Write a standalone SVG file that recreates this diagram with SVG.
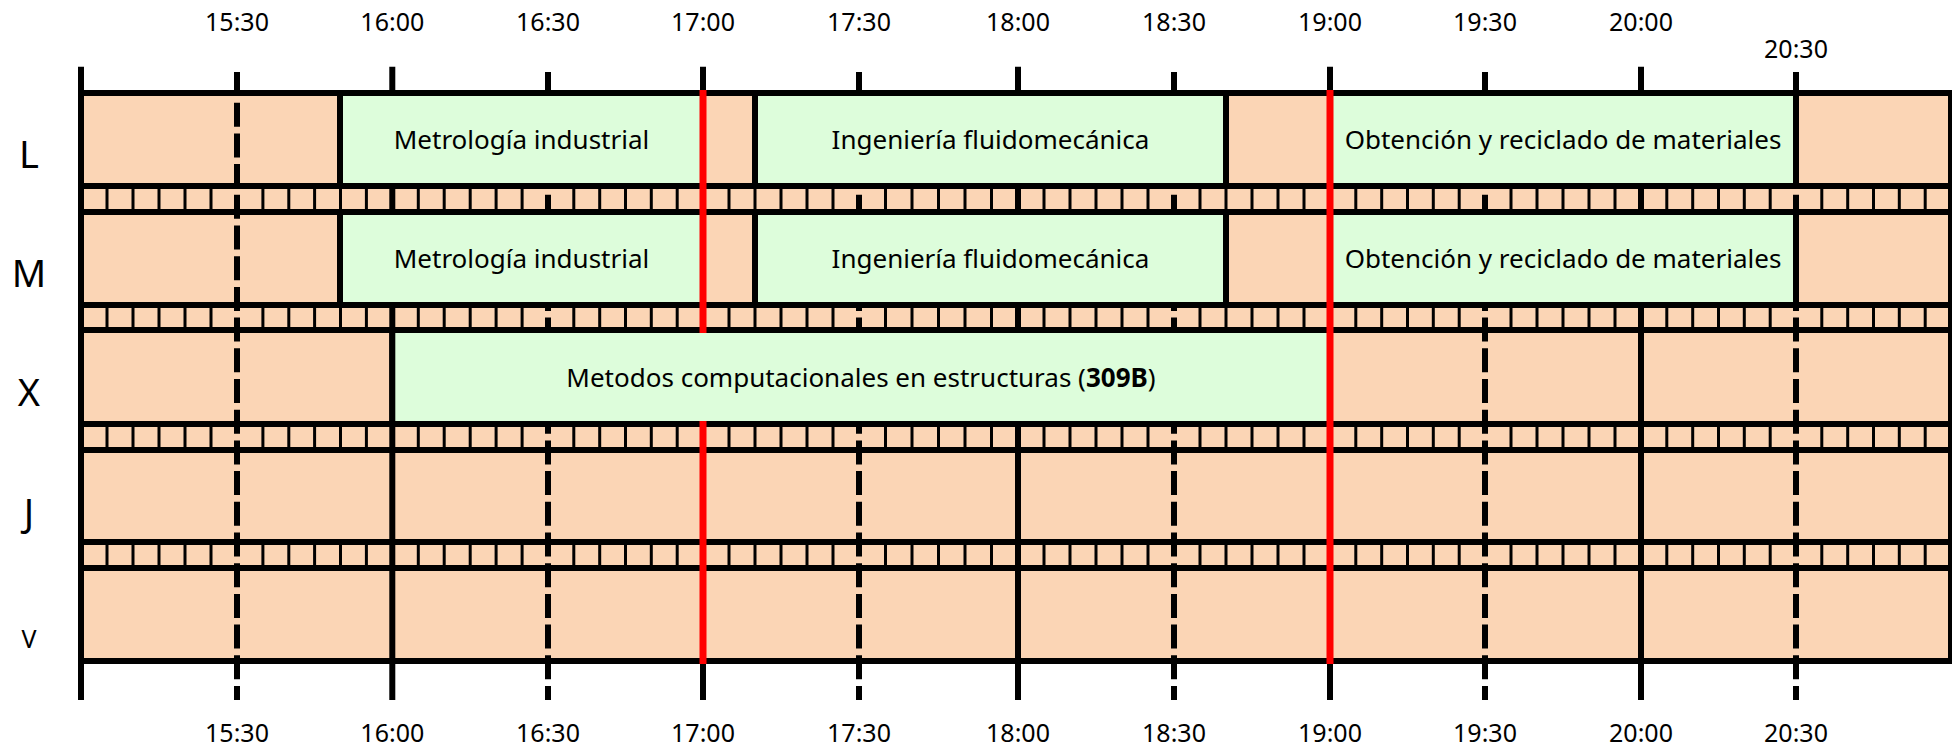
<svg xmlns="http://www.w3.org/2000/svg" xmlns:xlink="http://www.w3.org/1999/xlink" width="1952" height="749" viewBox="0 0 1952 749">
<style>
.t{font-family:"Noto Sans","Open Sans","DejaVu Sans",sans-serif;fill:#000;text-anchor:middle}
.time{font-size:25px}
.day{font-size:38px}
.lbl{font-size:26px}
.ln{stroke:#000;stroke-width:6;fill:none}
.dash{stroke:#000;stroke-width:6;fill:none;stroke-dasharray:24 6.7}
.sep{stroke:#000;stroke-width:3;fill:none}
.box{fill:#ddfddb;stroke:#000;stroke-width:6}
.red{stroke:#ff0000;stroke-width:7;fill:none}
</style>
<defs>
<path id="seps" class="sep" d="M107 0v26M133 0v26M159 0v26M185 0v26M211 0v26M262.9 0v26M288.8 0v26M314.6 0v26M340.5 0v26M366.4 0v26M418.3 0v26M444.2 0v26M470.2 0v26M496.1 0v26M522.1 0v26M573.8 0v26M599.7 0v26M625.5 0v26M651.3 0v26M677.2 0v26M729 0v26M755 0v26M781 0v26M807 0v26M833 0v26M885.5 0v26M912 0v26M938.5 0v26M965 0v26M991.5 0v26M1044 0v26M1070 0v26M1096 0v26M1122 0v26M1148 0v26M1200 0v26M1226 0v26M1252 0v26M1278 0v26M1304 0v26M1355.8 0v26M1381.7 0v26M1407.5 0v26M1433.3 0v26M1459.2 0v26M1511 0v26M1537 0v26M1563 0v26M1589 0v26M1615 0v26M1666.8 0v26M1692.7 0v26M1718.5 0v26M1744.3 0v26M1770.2 0v26M1821.8 0v26M1847.7 0v26M1873.5 0v26M1899.3 0v26M1925.2 0v26"/>
</defs>
<rect width="1952" height="749" fill="#fff"/>
<g id="grid">
<rect x="81" y="93" width="1871" height="568" fill="#fbd5b5"/>
<use xlink:href="#seps" href="#seps" y="186"/>
<use xlink:href="#seps" href="#seps" y="305"/>
<use xlink:href="#seps" href="#seps" y="424"/>
<use xlink:href="#seps" href="#seps" y="542"/>
<path class="ln" d="M78 93H1952M78 186H1952M78 212H1952M78 305H1952M78 330H1952M78 424H1952M78 450H1952M78 542H1952M78 568H1952M78 661H1952"/>
<path class="ln" d="M81 66.7V700M392.3 66.7V700M703 66.7V700M1018 66.7V700M1330 66.7V700M1641 66.7V700M1951 90V664"/>
<path class="dash" d="M237 72V700M548 72V700M859 72V700M1174 72V700M1485 72V700M1796 72V700"/>
</g>
<g id="box-L-metrologia"><rect class="box" x="340" y="93" width="363" height="93"/><text class="t lbl" x="521.5" y="149">Metrología industrial</text></g>
<g id="box-L-fluido"><rect class="box" x="755" y="93" width="471" height="93"/><text class="t lbl" x="990.5" y="149">Ingeniería fluidomecánica</text></g>
<g id="box-L-obtencion"><rect class="box" x="1330" y="93" width="466" height="93"/><text class="t lbl" x="1563" y="149">Obtención y reciclado de materiales</text></g>
<g id="box-M-metrologia"><rect class="box" x="340" y="212" width="363" height="93"/><text class="t lbl" x="521.5" y="268">Metrología industrial</text></g>
<g id="box-M-fluido"><rect class="box" x="755" y="212" width="471" height="93"/><text class="t lbl" x="990.5" y="268">Ingeniería fluidomecánica</text></g>
<g id="box-M-obtencion"><rect class="box" x="1330" y="212" width="466" height="93"/><text class="t lbl" x="1563" y="268">Obtención y reciclado de materiales</text></g>
<g id="box-X-metodos"><rect class="box" x="392.3" y="330" width="937.7" height="94"/><text class="t lbl" x="861" y="387">Metodos computacionales en estructuras (<tspan font-weight="bold">309B</tspan>)</text></g>
<g id="connectors">
<path class="red" d="M703 90V333M703 421V664M1330 90V664"/>
</g>
<g id="days">
<text class="t day" x="29" y="167.7">L</text>
<text class="t day" x="29" y="287.3">M</text>
<text class="t day" x="29" y="406">X</text>
<text class="t day" x="29" y="526">J</text>
<text class="t time" x="29" y="648">V</text>
</g>
<g id="time-top">
<text class="t time" x="237" y="30.5">15:30</text>
<text class="t time" x="392.3" y="30.5">16:00</text>
<text class="t time" x="548" y="30.5">16:30</text>
<text class="t time" x="703" y="30.5">17:00</text>
<text class="t time" x="859" y="30.5">17:30</text>
<text class="t time" x="1018" y="30.5">18:00</text>
<text class="t time" x="1174" y="30.5">18:30</text>
<text class="t time" x="1330" y="30.5">19:00</text>
<text class="t time" x="1485" y="30.5">19:30</text>
<text class="t time" x="1641" y="30.5">20:00</text>
<text class="t time" x="1796" y="58.3">20:30</text>
</g>
<g id="time-bottom">
<text class="t time" x="237" y="741.5">15:30</text>
<text class="t time" x="392.3" y="741.5">16:00</text>
<text class="t time" x="548" y="741.5">16:30</text>
<text class="t time" x="703" y="741.5">17:00</text>
<text class="t time" x="859" y="741.5">17:30</text>
<text class="t time" x="1018" y="741.5">18:00</text>
<text class="t time" x="1174" y="741.5">18:30</text>
<text class="t time" x="1330" y="741.5">19:00</text>
<text class="t time" x="1485" y="741.5">19:30</text>
<text class="t time" x="1641" y="741.5">20:00</text>
<text class="t time" x="1796" y="741.5">20:30</text>
</g>
</svg>
